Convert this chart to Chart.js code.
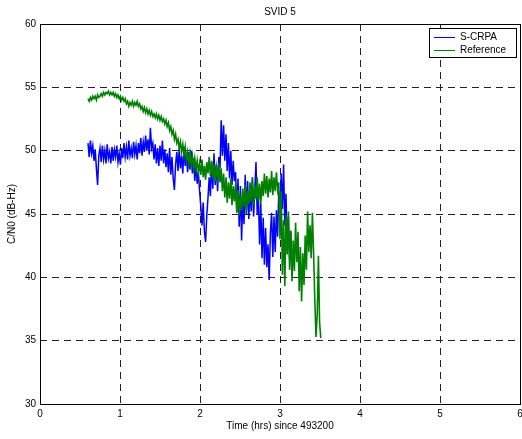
<!DOCTYPE html>
<html><head><meta charset="utf-8">
<script src="https://cdn.jsdelivr.net/npm/chart.js@4"></script>
<style>html,body{margin:0;padding:0;background:#fff}#wrap{width:522px;height:439px}</style>
</head><body><div id="wrap"><canvas id="c" width="522" height="439"></canvas></div>
<script>
const chartTitle = 'SVID 5';
const xTitle = 'Time (hrs) since 493200';
const yTitle = 'C/N0 (dB-Hz)';
const seriesNames = ['S-CRPA', 'Reference'];
const sampleStartHrs = 0.6;
const sampleStepHrs = 0.015;
const xTicks = [0,1,2,3,4,5,6];
const yTicks = [30,35,40,45,50,55,60];

const scrpa = [
50.6,49.5,50.8,49.8,50.4,49.2,50.1,48.6,47.3,49.6,
50.2,49.1,50.4,49.3,50.0,49.0,50.5,49.4,49.9,49.0,
50.3,49.2,50.1,49.5,50.4,49.1,49.8,48.9,50.2,49.4,
50.6,49.5,50.3,49.3,50.8,49.6,50.2,49.4,50.7,49.7,
50.4,49.3,50.6,49.8,51.0,49.6,50.7,49.9,51.2,50.0,
50.9,49.7,51.8,50.2,50.6,49.3,50.5,49.0,50.2,48.8,
50.4,49.2,50.8,49.0,50.1,48.7,49.8,48.3,50.2,48.1,
49.5,47.8,46.9,48.9,49.9,48.4,50.2,48.6,49.6,48.2,
50.3,48.8,49.7,48.3,49.9,48.5,50.0,48.2,49.4,47.6,
49.0,47.4,48.3,46.8,45.6,44.1,45.9,43.6,42.8,44.9,
46.3,47.9,46.4,49.1,47.0,49.8,47.3,48.9,46.8,49.5,
48.6,52.4,49.6,52.0,49.2,51.3,48.4,50.6,47.8,50.0,
47.3,49.2,47.6,48.3,45.1,47.8,44.0,47.2,42.9,46.4,
44.2,48.1,45.0,47.6,44.6,47.3,45.2,47.9,44.8,46.9,
49.1,45.0,46.4,42.6,45.8,41.5,44.7,41.0,43.9,40.8,
42.6,39.8,43.5,45.1,41.6,44.8,42.0,45.3,43.2,46.8,
44.6,48.2,45.4,48.9,44.1,46.6,42.3,44.8,41.4,43.6,
40.7,41.2];

const reference = [
54.1,53.9,54.2,54.0,54.3,54.1,54.3,54.0,54.4,54.2,
54.3,54.5,54.3,54.6,54.4,54.6,54.5,54.7,54.4,54.6,
54.4,54.6,54.3,54.5,54.2,54.4,54.1,54.3,54.0,54.2,
53.9,54.1,53.7,53.9,53.5,53.8,53.6,53.9,53.5,53.8,
53.6,53.9,53.5,53.7,53.3,53.5,53.1,53.4,53.0,53.3,
52.9,53.2,52.8,53.1,52.7,52.9,52.6,52.9,52.5,52.8,
52.4,52.7,52.3,52.5,52.1,52.4,51.9,52.2,51.6,51.9,
51.3,51.6,50.9,51.3,50.6,50.9,50.2,50.7,49.9,50.5,
49.6,50.3,49.3,49.9,49.0,49.8,48.9,49.6,48.7,49.4,
48.5,49.2,48.3,49.0,48.1,49.3,47.9,48.8,47.7,49.1,
48.2,49.5,48.0,49.2,47.8,48.9,47.6,48.7,47.9,49.0,
47.5,48.6,46.8,48.2,46.3,47.9,45.9,47.5,46.2,47.8,
45.7,47.2,46.0,47.4,45.2,46.9,44.9,46.5,45.3,47.0,
45.6,47.3,45.1,46.8,45.8,47.5,46.0,47.8,45.7,47.2,
46.2,47.9,46.0,47.4,45.8,47.6,46.4,48.2,46.6,48.0,
46.3,47.8,46.7,48.4,46.5,47.9,46.8,48.3,46.9,47.5,
43.0,46.8,40.2,44.5,39.3,44.9,41.8,45.2,40.6,43.7,
39.7,42.9,40.5,44.3,41.2,43.6,38.9,42.4,38.1,41.9,
39.4,43.3,40.6,45.2,42.0,44.1,41.5,45.1,41.9,38.2,
35.3,37.0,41.7,36.4,35.2];

function toPoints(vals){
  return vals.map((v,i)=>({x: +(sampleStartHrs + i*sampleStepHrs).toFixed(4), y: v}));
}

const FONT = 'Liberation Sans, Arial, Helvetica, sans-serif';

const framePlugin = {
  id: 'frame',
  afterDraw(chart){
    const {ctx, chartArea: a} = chart;
    ctx.save();
    ctx.strokeStyle = '#000';
    ctx.lineWidth = 1;
    ctx.setLineDash([]);
    ctx.strokeRect(Math.round(a.left)+0.5, Math.round(a.top)+0.5, Math.round(a.right-a.left), Math.round(a.bottom-a.top));
    ctx.fillStyle = '#000';
    ctx.font = '10px ' + FONT;
    ctx.textAlign = 'center';
    ctx.textBaseline = 'middle';
    ctx.fillText(chartTitle, (a.left+a.right)/2, 12);
    const bx = a.right - 91, by = a.top + 4, bw = 87, bh = 29;
    ctx.fillStyle = '#fff';
    ctx.fillRect(bx, by, bw, bh);
    ctx.strokeStyle = '#000';
    ctx.strokeRect(bx+0.5, by+0.5, bw, bh);
    chart.data.datasets.forEach((ds, i) => {
      const y = by + 9 + i*13;
      ctx.strokeStyle = ds.borderColor;
      ctx.lineWidth = 1;
      ctx.beginPath();
      ctx.moveTo(bx+5, y+0.5); ctx.lineTo(bx+26, y+0.5); ctx.stroke();
      ctx.fillStyle = '#000';
      ctx.textAlign = 'left';
      ctx.fillText(ds.label, bx+31, y);
    });
    ctx.restore();
  }
};

new Chart(document.getElementById('c'), {
  type: 'line',
  data: {
    datasets: [
      {label: seriesNames[0], data: toPoints(scrpa), borderColor: '#0000ff', borderWidth: 1.5, pointRadius: 0, tension: 0, order: 1},
      {label: seriesNames[1], data: toPoints(reference), borderColor: '#008000', borderWidth: 1.6, pointRadius: 0, tension: 0, order: 0}
    ]
  },
  options: {
    responsive: false,
    animation: false,
    devicePixelRatio: 1,
    layout: {padding: {top: 24, right: 2, left: 0, bottom: 0}},
    plugins: {legend: {display: false}, tooltip: {enabled: false}, title: {display: false}},
    scales: {
      x: {
        type: 'linear', min: 0, max: 6,
        afterBuildTicks(s){ s.ticks = xTicks.map(v=>({value:v})); },
        afterFit(s){ s.height = 35; s.paddingLeft = 0; s.paddingRight = 0; },
        grid: {color: '#222', lineWidth: 1, drawTicks: false},
        border: {display: false, dash: [7,5]},
        ticks: {color: '#000', padding: 4, font: {size: 10, family: FONT}, maxRotation: 0},
        title: {display: true, text: xTitle, color: '#000', font: {size: 10, family: FONT}, padding: {top: 0, bottom: 7}}
      },
      y: {
        type: 'linear', min: 30, max: 60,
        afterBuildTicks(s){ s.ticks = yTicks.map(v=>({value:v})); },
        afterFit(s){ s.width = 40; s.paddingTop = 0; s.paddingBottom = 0; },
        grid: {color: '#222', lineWidth: 1, drawTicks: false},
        border: {display: false, dash: [7,5]},
        ticks: {color: '#000', padding: 4, font: {size: 10, family: FONT}},
        title: {display: true, text: yTitle, color: '#000', font: {size: 10, family: FONT}, padding: {top: 6, bottom: 0}}
      }
    }
  },
  plugins: [framePlugin]
});
</script></body></html>
